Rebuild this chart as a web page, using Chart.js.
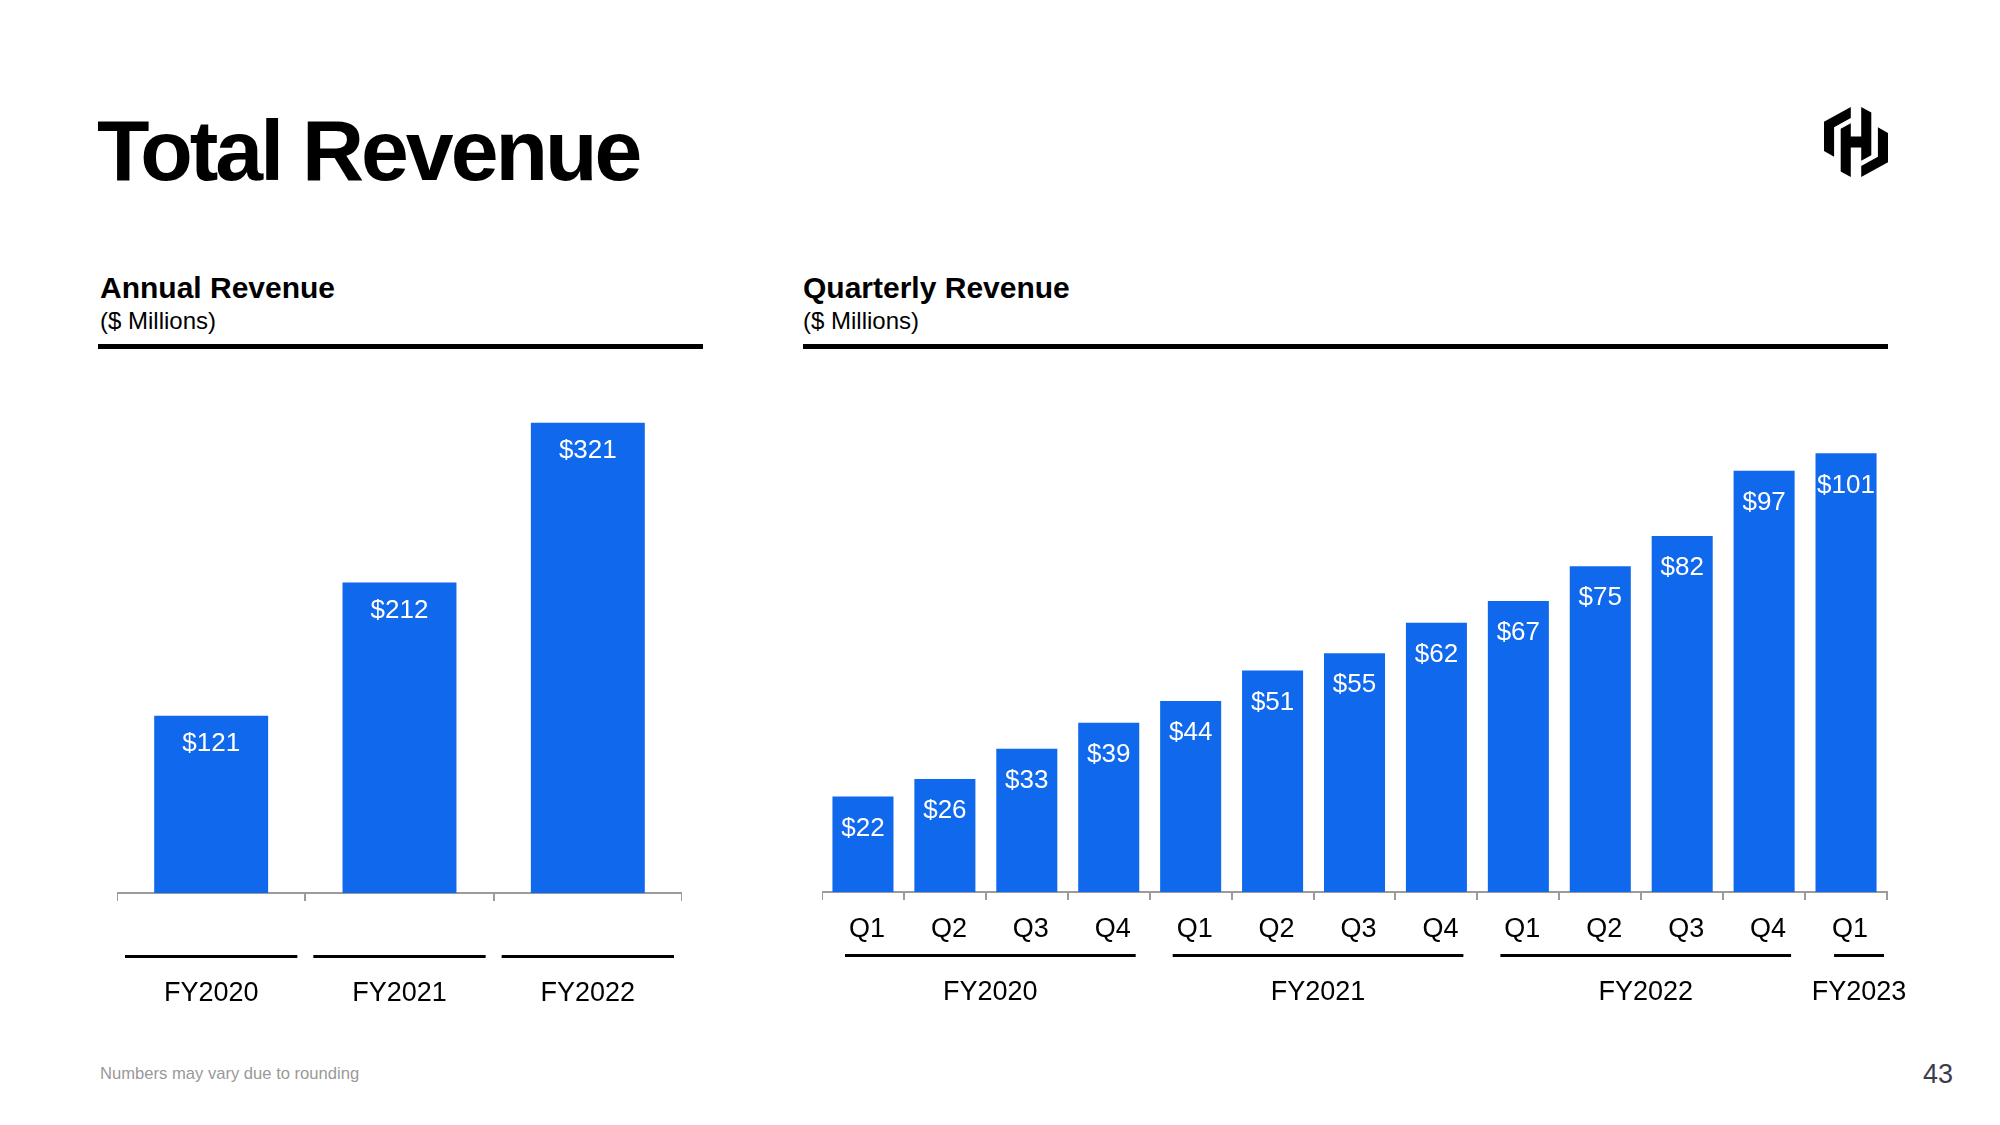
<!DOCTYPE html>
<html>
<head>
<meta charset="utf-8">
<script src="https://cdn.jsdelivr.net/npm/chart.js@4.4.1/dist/chart.umd.min.js"></script>
<style>
  html, body { margin: 0; padding: 0; background: #fff; }
  body { width: 2000px; height: 1125px; position: relative; overflow: hidden;
         font-family: 'Liberation Sans', Arial, sans-serif; color: #000; }
  .abs { position: absolute; line-height: 1; white-space: nowrap; }
  #title { left: 97px; top: 107px; font-size: 86px; font-weight: bold; letter-spacing: -3px; }
  .head { font-size: 30px; font-weight: bold; }
  .sub { font-size: 24px; }
  .rule { position: absolute; height: 5px; background: #000; }
  canvas { position: absolute; }
</style>
</head>
<body>
<div id="title" class="abs">Total Revenue</div>

<div class="abs head" style="left:100px;top:273px">Annual Revenue</div>
<div class="abs sub" style="left:100px;top:309px">($ Millions)</div>
<div class="rule" style="left:98px;top:344px;width:605px"></div>

<div class="abs head" style="left:803px;top:273px">Quarterly Revenue</div>
<div class="abs sub" style="left:803px;top:309px">($ Millions)</div>
<div class="rule" style="left:803px;top:344px;width:1085px"></div>

<svg style="position:absolute;left:1824px;top:107px" width="64" height="70" viewBox="0 0 184 212" preserveAspectRatio="none">
  <polygon fill="#000" points="77,0 0,44.5 0,133.5 29,150.3 29,61.2 77,33.4"/>
  <polygon fill="#000" points="107,212 184,167.5 184,78.5 155,61.7 155,150.8 107,178.6"/>
  <polygon fill="#000" points="48,65.8 77,49.1 77,89 107,89 107,0 136,16.7 136,146.2 107,162.9 107,123 77,123 77,212 48,195.3"/>
</svg>

<div class="abs" style="left:100px;top:1066px;font-size:16.6px;color:#999">Numbers may vary due to rounding</div>
<div class="abs" style="left:1923px;top:1061px;font-size:27px;color:#3c3c4c">43</div>

<canvas id="annual" width="565" height="638" style="left:117px;top:395px"></canvas>
<canvas id="quarterly" width="1105" height="596" style="left:822px;top:436px"></canvas>

<script>
const annualLabels = ['FY2020', 'FY2021', 'FY2022'];
const annualValues = [121, 212, 321];

const quarterLabels = ['Q1', 'Q2', 'Q3', 'Q4', 'Q1', 'Q2', 'Q3', 'Q4', 'Q1', 'Q2', 'Q3', 'Q4', 'Q1'];
const quarterYears = ['FY2020', 'FY2020', 'FY2020', 'FY2020', 'FY2021', 'FY2021', 'FY2021', 'FY2021',
                      'FY2022', 'FY2022', 'FY2022', 'FY2022', 'FY2023'];
const quarterValues = [22, 26, 33, 39, 44, 51, 55, 62, 67, 75, 82, 97, 101];

const BLUE = '#1068ec';
const AXIS_GREY = '#9b9b9b';
const FONT = "'Liberation Sans', Arial, sans-serif";

Chart.defaults.font.family = FONT;
Chart.defaults.color = '#000';

// white "$value" label just inside the top of each bar
function valueLabels(dy) {
  return {
    id: 'valueLabels',
    afterDatasetsDraw(chart) {
      const ctx = chart.ctx;
      const meta = chart.getDatasetMeta(0);
      const values = chart.data.datasets[0].data;
      ctx.save();
      ctx.fillStyle = '#fff';
      ctx.font = '26px ' + FONT;
      ctx.textAlign = 'center';
      ctx.textBaseline = 'middle';
      meta.data.forEach((bar, i) => {
        ctx.fillText('$' + values[i], bar.x, bar.y + dy);
      });
      ctx.restore();
    }
  };
}

// black underline under each group of categories, label centred under the line
function groupLines(groups, insets) {
  return {
    id: 'groupLines',
    afterDraw(chart) {
      const ctx = chart.ctx;
      const x = chart.scales.x;
      const half = (x.getPixelForValue(1) - x.getPixelForValue(0)) / 2;
      const base = chart.chartArea.bottom;
      ctx.save();
      ctx.fillStyle = '#000';
      ctx.font = '27px ' + FONT;
      ctx.textAlign = 'center';
      ctx.textBaseline = 'middle';
      groups.forEach(g => {
        const [l, r] = insets(g);
        const left = x.getPixelForValue(g.from) - half + l;
        const right = x.getPixelForValue(g.to) + half - r;
        ctx.fillRect(left, base + 62, right - left, 3);
        ctx.fillText(g.label, (left + right) / 2, base + 101);
      });
      ctx.restore();
    }
  };
}

function groupsFrom(keys) {
  const out = [];
  keys.forEach((k, i) => {
    const last = out[out.length - 1];
    if (last && last.label === k) last.to = i;
    else out.push({ label: k, from: i, to: i });
  });
  return out;
}

function xAxis(showTicks) {
  return {
    afterFit(scale) { scale.height = 140; },
    grid: { display: true, drawOnChartArea: false, drawTicks: true, tickLength: 8,
            color: AXIS_GREY, lineWidth: 2 },
    border: { display: true, color: AXIS_GREY, width: 2 },
    ticks: { display: showTicks, font: { size: 27 }, color: '#000', padding: 13,
             labelOffset: 4, maxRotation: 0, autoSkip: false }
  };
}

new Chart(document.getElementById('annual'), {
  type: 'bar',
  data: {
    labels: annualLabels,
    datasets: [{ data: annualValues, backgroundColor: BLUE, borderWidth: 0,
                 categoryPercentage: 1, barPercentage: 0.605 }]
  },
  options: {
    responsive: false,
    animation: false,
    devicePixelRatio: 1,
    layout: { padding: 0 },
    plugins: { legend: { display: false }, tooltip: { enabled: false } },
    scales: {
      x: xAxis(false),
      y: { display: false, min: 0, max: 340 }
    }
  },
  plugins: [valueLabels(28), groupLines(groupsFrom(annualLabels), () => [8, 8])]
});

new Chart(document.getElementById('quarterly'), {
  type: 'bar',
  data: {
    labels: quarterLabels,
    datasets: [{ data: quarterValues, backgroundColor: BLUE, borderWidth: 0,
                 categoryPercentage: 1, barPercentage: 0.745 }]
  },
  options: {
    responsive: false,
    animation: false,
    devicePixelRatio: 1,
    layout: { padding: { right: 40 } },
    plugins: { legend: { display: false }, tooltip: { enabled: false } },
    scales: {
      x: xAxis(true),
      y: { display: false, min: 0, max: 105 }
    }
  },
  plugins: [valueLabels(32), groupLines(groupsFrom(quarterYears), g => g.from === g.to ? [29, 3] : [23, 14])]
});
</script>
</body>
</html>
